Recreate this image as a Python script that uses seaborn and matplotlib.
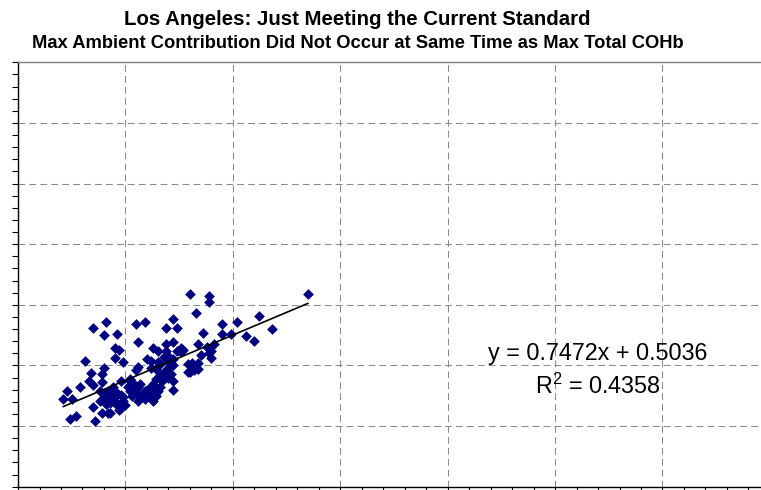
import pandas as pd
import seaborn as sns
import matplotlib.pyplot as plt
from matplotlib.ticker import MultipleLocator

# Ambient contribution (x) vs total COHb (y)
x_vals = [0.80, 0.89, 0.89, 1.35, 0.83, 1.12, 1.18, 0.35, 0.41, 0.55,
          0.59, 0.69, 0.72, 0.74, 0.40, 0.46, 0.56, 0.86, 0.95, 1.02,
          0.95, 0.99, 1.06, 1.10, 0.45, 0.47, 0.45, 0.49, 0.31, 0.63,
          0.65, 0.69, 0.69, 0.72, 0.68, 0.74, 0.76, 0.77, 0.84, 0.88,
          0.91, 0.90, 0.89, 0.90, 0.85, 0.84, 0.34, 0.40, 0.39, 0.39,
          0.33, 0.35, 0.29, 0.23, 0.21, 0.25, 0.60, 0.56, 0.55, 0.52,
          0.48, 0.65, 0.64, 0.62, 0.66, 0.68, 0.70, 0.72, 0.72, 0.71,
          0.72, 0.72, 0.70, 0.79, 0.81, 0.82, 0.84, 0.80, 0.79, 0.81,
          0.38, 0.40, 0.42, 0.44, 0.45, 0.48, 0.51, 0.49, 0.52, 0.56,
          0.57, 0.59, 0.60, 0.62, 0.63, 0.65, 0.66, 0.57, 0.56, 0.59,
          0.63, 0.61, 0.64, 0.38, 0.41, 0.43, 0.45, 0.46, 0.48, 0.50,
          0.39, 0.42, 0.43, 0.35, 0.27, 0.24, 0.36, 0.47, 0.49, 0.45,
          0.42, 0.52, 0.53, 0.55, 0.58, 0.60, 0.63, 0.52, 0.54, 0.66,
          0.70, 0.62, 0.76, 0.70, 0.44, 0.64, 0.67]
y_vals = [1.59, 1.57, 1.52, 1.59, 1.43, 1.41, 1.30, 1.31, 1.36, 1.34,
          1.36, 1.31, 1.38, 1.31, 1.25, 1.26, 1.19, 1.27, 1.34, 1.36,
          1.26, 1.26, 1.24, 1.20, 1.14, 1.13, 1.06, 1.03, 1.04, 1.14,
          1.12, 1.12, 1.18, 1.19, 1.07, 1.12, 1.14, 1.13, 1.18, 1.15,
          1.18, 1.12, 1.10, 1.06, 1.09, 1.02, 0.94, 0.98, 0.93, 0.86,
          0.87, 0.84, 0.82, 0.79, 0.72, 0.72, 1.05, 0.99, 0.96, 0.89,
          0.87, 1.03, 0.97, 0.98, 0.92, 0.95, 0.98, 1.00, 1.05, 0.93,
          0.87, 0.80, 0.90, 1.01, 0.99, 0.96, 0.97, 0.95, 0.95, 1.02,
          0.79, 0.74, 0.79, 0.82, 0.79, 0.76, 0.82, 0.74, 0.79, 0.82,
          0.85, 0.79, 0.76, 0.82, 0.85, 0.79, 0.82, 0.74, 0.71, 0.72,
          0.71, 0.75, 0.75, 0.71, 0.68, 0.69, 0.71, 0.67, 0.65, 0.67,
          0.61, 0.61, 0.61, 0.66, 0.58, 0.56, 0.54, 0.63, 0.71, 0.74,
          0.72, 0.82, 0.75, 0.78, 0.76, 0.80, 0.79, 0.87, 0.85, 1.01,
          1.04, 1.04, 1.11, 1.08, 0.75, 0.89, 0.87]

# Trendline as printed on the chart
slope = 0.7472
intercept = 0.5036
r_squared = 0.4358

sns.set_style('white')
plt.rcParams['font.family'] = ['Liberation Sans', 'DejaVu Sans']
plt.rcParams['text.color'] = 'black'
plt.rcParams['mathtext.fontset'] = 'custom'
plt.rcParams['mathtext.rm'] = 'Liberation Sans'
plt.rcParams['mathtext.it'] = 'Liberation Sans'

fig = plt.figure(figsize=(7.61, 4.90), dpi=100)
# axes run past the right edge of the figure, like the cropped original
ax = fig.add_axes([0.0237, 0.0067, 0.988, 0.8662])

df = pd.DataFrame({'ambient': x_vals, 'total': y_vals})
sns.scatterplot(data=df, x='ambient', y='total', marker='D', color='#000080',
                s=30, linewidth=0, ax=ax, zorder=3)

fit = pd.DataFrame({'ambient': [min(x_vals), max(x_vals)]})
fit['total'] = slope * fit['ambient'] + intercept
sns.lineplot(data=fit, x='ambient', y='total', color='black', lw=1.2, ax=ax, zorder=4)

ax.set_xlim(0, 3.5)
ax.set_ylim(0, 3.5)
ax.xaxis.set_major_locator(MultipleLocator(0.5))
ax.yaxis.set_major_locator(MultipleLocator(0.5))
ax.xaxis.set_minor_locator(MultipleLocator(0.1))
ax.yaxis.set_minor_locator(MultipleLocator(0.1))
ax.grid(which='major', color='#8a8a8a', linestyle=(0, (6.5, 4)), linewidth=0.75)
ax.tick_params(which='both', direction='out', length=4.5, width=0.8, color='black',
               left=True, bottom=True, labelleft=False, labelbottom=False)
ax.set_xlabel('')
ax.set_ylabel('')

ax.spines['top'].set_color('#808080')
ax.spines['top'].set_linewidth(1.0)
for side in ['left', 'bottom']:
    ax.spines[side].set_color('black')
    ax.spines[side].set_linewidth(1.0)

ax.text(2.70, 1.10, f'y = {slope}x + {intercept}', ha='center', va='center', fontsize=16.8)
ax.text(2.70, 0.83, f'R$^2$ = {r_squared}', ha='center', va='center', fontsize=16.8)

fig.text(0.47, 0.961, 'Los Angeles: Just Meeting the Current Standard',
         ha='center', va='center', fontweight='bold', fontsize=14.7)
fig.text(0.47, 0.912, 'Max Ambient Contribution Did Not Occur at Same Time as Max Total COHb',
         ha='center', va='center', fontweight='bold', fontsize=13.2)

plt.savefig('out.png', dpi=100)
